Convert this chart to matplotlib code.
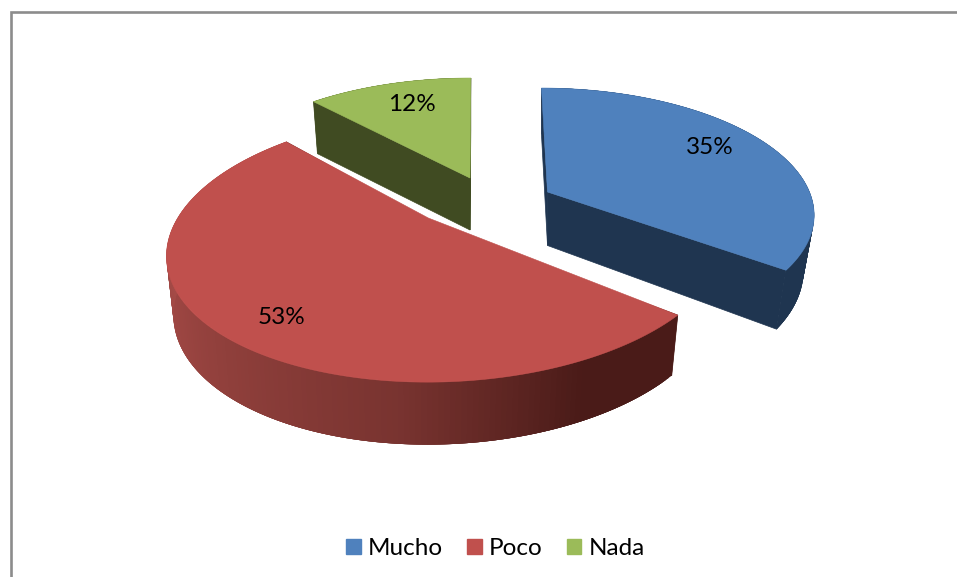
import numpy as np
import matplotlib
matplotlib.use("Agg")
import matplotlib.pyplot as plt
from matplotlib.collections import PolyCollection
from matplotlib.colors import to_rgb
from matplotlib.patches import Polygon, Patch, Rectangle

# Data
categories = ["Mucho", "Poco", "Nada"]
values = [35, 53, 12]

# Styles
top_colors = ["#4f81bd", "#c0504d", "#9bbb59"]
wall_light = ["#1f3550", "#a84c48", "#404b22"]
wall_dark = ["#1f3550", "#4a1b18", "#404b22"]

# Projection of each exploded slice (pixel canvas)
apex_x = [547.5, 448.3, 470]
apex_y = [192, 231, 178]
scale_x = [262, 277, 263]
scale_y = [120.6, 133, 120]
shear = [-7, 18.4, 1]
depth = [53.5, 58, 52]
persp = [0.16, 0.12, 0.20]
bottom_fx = [0.96, 0.975, 0.975]
bottom_fy = [1.07, 1.03, 1.0]
hub_shift = [(0, 0), (-20, -13), (0, 0)]
label_xy = [(0.67, 0.39), (-0.519, -0.603), (-0.254, 0.703)]
order = [2, 0, 1]

plt.rcParams["font.family"] = ["Lato", "DejaVu Sans"]
fig = plt.figure(figsize=(9.57, 5.77), dpi=100)
ax = fig.add_axes([0, 0, 1, 1])
ax.set_xlim(0, 957)
ax.set_ylim(577, 0)
ax.axis("off")

ax.add_patch(Rectangle((10.5, 12), 1200, 900, fc="white", ec="#8c8c8c", lw=1.9, zorder=0))


def project(i, X, Y, bottom=False):
    X, Y = np.asarray(X, float), np.asarray(Y, float)
    w = 1 + persp[i] * Y
    fx, fy, dz = (bottom_fx[i], bottom_fy[i], depth[i]) if bottom else (1.0, 1.0, 0)
    sx = apex_x[i] + (scale_x[i] * fx * X + shear[i] * Y) / w
    sy = apex_y[i] + dz - scale_y[i] * fy * Y / w
    return np.column_stack([sx, sy])


edges = np.concatenate([[0], np.cumsum(values)]) / sum(values) * 360
for i in order:
    th = np.radians(np.linspace(edges[i], edges[i + 1], 181))
    X, Y = np.sin(th), np.cos(th)
    top = project(i, X, Y)
    bot = project(i, X, Y, bottom=True)
    a_top, a_bot = project(i, 0, 0), project(i, 0, 0, bottom=True)
    light, dark = np.array(to_rgb(wall_light[i])), np.array(to_rgb(wall_dark[i]))

    # cut faces
    for k in (0, -1):
        ax.add_patch(Polygon([a_top[0], top[k], bot[k], a_bot[0]], fc=wall_dark[i], ec=wall_dark[i], lw=0.5, zorder=2))

    # rim, shaded by angle; each quad overlaps the next so that no seams show
    n = len(th)
    quads = [[top[j], top[min(j + 4, n - 1)], bot[min(j + 4, n - 1)], bot[j]] for j in range(n - 1)]
    deg = np.degrees(th[:-1])
    t = np.interp(deg, [150, 185, 240, 275], [0, 0.5, 0.85, 1.0])
    cols = [dark + (light - dark) * v for v in t]
    ax.add_collection(PolyCollection(quads, facecolors=cols, edgecolors="none", linewidths=0, zorder=3))

    # top face
    hub = a_top + np.array(hub_shift[i])
    ax.add_patch(Polygon(np.vstack([hub, top]), fc=top_colors[i], ec=top_colors[i], lw=0.4, zorder=4))

    lx, ly = label_xy[i]
    p = project(i, lx, ly)[0]
    ax.text(p[0], p[1], f"{values[i]}%", ha="center", va="center", fontsize=17.5, color="black", zorder=5)

handles = [Patch(fc=c, ec=c, label=n) for c, n in zip(top_colors, categories)]
ax.legend(handles=handles, ncol=3, frameon=False, fontsize=17.5, loc="center",
          bbox_to_anchor=(495.5 / 957, 1 - 548.5 / 577), handlelength=0.61, handleheight=0.61,
          handletextpad=0.29, columnspacing=0.98, borderpad=0, borderaxespad=0)

fig.savefig("out.png", dpi=100)
